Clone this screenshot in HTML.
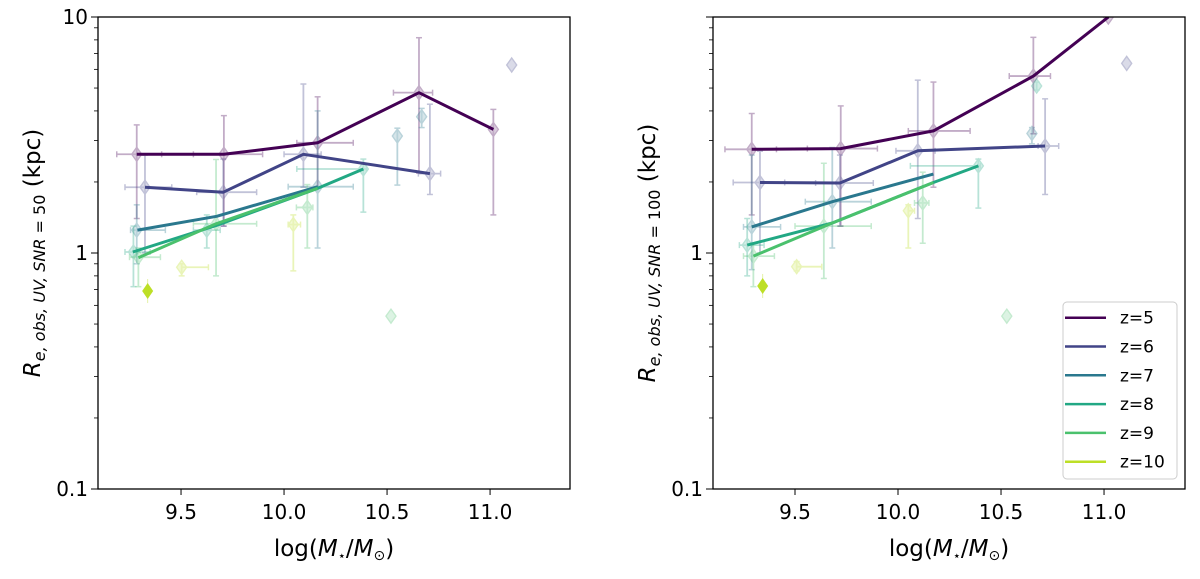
<!DOCTYPE html>
<html><head><meta charset="utf-8"><style>
body{margin:0;background:#fff;}
svg text{font-family:"DejaVu Sans","Liberation Sans",sans-serif;}
</style></head><body>
<svg id="fig" width="1200" height="574" viewBox="0 0 1200 574" xmlns="http://www.w3.org/2000/svg"></svg>
<script>
const redshifts = [5,6,7,8,9,10];
const colors = ['#440154','#414487','#2a788e','#22a884','#4ac16d','#bddf26'];
const xTicks = [9.5,10.0,10.5,11.0];
const xTickLabels = ['9.5','10.0','10.5','11.0'];
// left panel (SNR=50) median lines: masses & sizes per redshift
const leftLineMass = [[9.285,9.708,10.163,10.655,11.016],[9.325,9.705,10.094,10.708],[9.288,9.673,10.164],[9.266,9.673,10.164,10.385],[9.293,9.670,10.163],[]];
const leftLineSize = [[2.62,2.62,2.93,4.78,3.34],[1.90,1.81,2.62,2.17],[1.25,1.43,1.91],[1.01,1.31,1.88,2.27],[0.955,1.33,1.88],[]];
// right panel (SNR=100)
const rightLineMass = [[9.290,9.722,10.172,10.657,11.021],[9.330,9.718,10.096,10.714],[9.290,9.681,10.172],[9.268,9.681,10.172,10.390],[9.298,9.681,10.172],[]];
const rightLineSize = [[2.75,2.77,3.29,5.62,10.0],[1.99,1.98,2.71,2.84],[1.29,1.65,2.16],[1.08,1.34,1.99,2.34],[0.97,1.34,1.99],[]];
// scatter points: redshift index, mass, size, mass-lo, mass-hi, size-lo, size-hi
const leftPtZ    = [0,0,0,0,0, 1,1,1,1,1, 2,2,2,2, 3,3,3, 4,4,4,4, 5,5];
const leftPtMass = [9.285,9.708,10.163,10.655,11.016, 9.325,9.705,10.094,10.708,11.105, 9.285,10.163,10.550,10.668, 9.269,9.625,10.385, 9.293,9.670,10.113,10.519, 9.503,10.045];
const leftPtSize = [2.62,2.62,2.93,4.78,3.34, 1.90,1.81,2.62,2.17,6.26, 1.25,1.91,3.13,3.78, 1.01,1.25,2.27, 0.96,1.33,1.56,0.54, 0.87,1.32];
const leftPtMLo  = [9.188,9.560,10.062,10.531,11.016, 9.228,9.576,10.000,10.652,11.105, 9.255,10.020,10.550,10.668, 9.228,9.560,10.062, 9.250,9.560,10.060,10.519, 9.503,10.020];
const leftPtMHi  = [9.406,9.896,10.336,10.721,11.016, 9.455,9.867,10.180,10.760,11.105, 9.424,10.336,10.550,10.668, 9.350,9.690,10.400, 9.400,9.867,10.140,10.519, 9.633,10.080];
const leftPtSLo  = [1.40,1.30,1.90,2.18,1.45, 1.00,1.30,1.90,1.77,6.26, 0.90,1.05,1.94,3.40, 0.72,1.05,1.49, 0.72,0.80,1.05,0.54, 0.80,0.84];
const leftPtSHi  = [3.49,3.82,4.59,8.17,4.06, 2.60,2.50,5.20,4.27,6.26, 1.60,4.00,3.38,4.10, 1.30,1.45,2.50, 1.05,2.49,1.95,0.54, 0.90,1.45];
const rightPtZ    = [0,0,0,0,0, 1,1,1,1,1, 2,2,2, 3,3,3, 4,4,4,4, 5,5];
const rightPtMass = [9.290,9.722,10.172,10.657,11.021, 9.330,9.718,10.096,10.714,11.11, 9.290,9.681,10.650, 9.268,10.390,10.673, 9.298,9.640,10.120,10.528, 9.508,10.050];
const rightPtSize = [2.75,2.77,3.29,5.62,10.0, 1.99,1.98,2.71,2.84,6.36, 1.29,1.65,3.21, 1.08,2.34,5.10, 0.97,1.30,1.63,0.54, 0.875,1.51];
const rightPtMLo  = [9.160,9.560,10.050,10.540,11.021, 9.200,9.600,9.990,10.680,11.11, 9.250,9.550,10.650, 9.230,10.060,10.673, 9.250,9.500,10.080,10.528, 9.508,10.050];
const rightPtMHi  = [9.410,9.900,10.350,10.740,11.021, 9.450,9.880,10.180,10.780,11.11, 9.430,9.870,10.650, 9.350,10.400,10.673, 9.400,9.870,10.150,10.528, 9.630,10.080];
const rightPtSLo  = [1.45,1.30,1.90,3.20,10.0, 1.00,1.30,1.40,1.77,6.36, 0.85,1.05,2.90, 0.80,1.55,4.90, 0.72,0.78,1.10,0.54, 0.84,1.05];
const rightPtSHi  = [3.90,4.20,5.30,8.20,10.0, 2.70,2.60,5.40,4.50,6.36, 2.60,2.80,3.40, 1.40,2.50,5.30, 1.10,2.40,2.20,0.54, 0.92,1.60];
const starMass = [9.338, 9.343];
const starSize = [0.69, 0.725];

const NS='http://www.w3.org/2000/svg';
const svg=document.getElementById('fig');
function mk(tag,attrs,parent){const e=document.createElementNS(NS,tag);for(const k in attrs)e.setAttribute(k,attrs[k]);(parent||svg).appendChild(e);return e;}

function panel(p){
  const g=mk('g',{});
  
  
  const L=p.x0,R=p.x1,T=17,B=489;
  const xs=m=>L+(m-p.xmin)/(p.xmax-p.xmin)*(R-L);
  const ys=v=>B-(Math.log10(v)+1)/2*(B-T);
  const clip='clip'+p.id;
  const cp=mk('clipPath',{id:clip},g);mk('rect',{x:L,y:T,width:R-L,height:B-T},cp);
  const data=mk('g',{'clip-path':'url(#'+clip+')'},g);
  for(let i=0;i<p.pz.length;i++){
    const c=colors[p.pz[i]];
    const pg=mk('g',{opacity:0.32},data);
    
    
    const x=xs(p.pm[i]),y=ys(p.ps[i]);
    const x1=xs(p.ml[i]),x2=xs(p.mh[i]),y1=ys(p.sl[i]),y2=ys(p.sh[i]);
    if(x2-x1>1){mk('line',{x1:x1,x2:x2,y1:y,y2:y,stroke:c,'stroke-width':1.8},pg);
      mk('line',{x1:x1,x2:x1,y1:y-3,y2:y+3,stroke:c,'stroke-width':1.5},pg);
      mk('line',{x1:x2,x2:x2,y1:y-3,y2:y+3,stroke:c,'stroke-width':1.5},pg);}
    if(y1-y2>1){mk('line',{x1:x,x2:x,y1:y1,y2:y2,stroke:c,'stroke-width':1.8},pg);
      mk('line',{x1:x-3,x2:x+3,y1:y1,y2:y1,stroke:c,'stroke-width':1.5},pg);
      mk('line',{x1:x-3,x2:x+3,y1:y2,y2:y2,stroke:c,'stroke-width':1.5},pg);}
    mk('path',{d:`M${x} ${y-7}L${x+5} ${y}L${x} ${y+7}L${x-5} ${y}Z`,fill:c,stroke:c,'stroke-width':1.4,'fill-opacity':0.6},pg);
  }
  for(let k=0;k<redshifts.length;k++){
    if(p.lm[k].length<2)continue;
    const d=p.lm[k].map((m,j)=>(j?'L':'M')+xs(m).toFixed(1)+' '+ys(p.ls[k][j]).toFixed(1)).join('');
    const ln=mk('path',{d:d,fill:'none',stroke:colors[k],'stroke-width':3,'stroke-linejoin':'round'},data);
    
    
  }
  {const x=xs(p.star[0]),y=ys(p.star[1]);
   const st=mk('path',{d:`M${x} ${y-8}L${x+5.5} ${y}L${x} ${y+8}L${x-5.5} ${y}Z`,fill:colors[5]},data);
   
   
   mk('line',{x1:x,x2:x,y1:y-12,y2:y+12,stroke:colors[5],'stroke-width':1,opacity:0.4},data);}
  mk('rect',{x:L,y:T,width:R-L,height:B-T,fill:'none',stroke:'#000','stroke-width':1.3},g);
  xTicks.forEach((t,i)=>{const x=xs(t);mk('line',{x1:x,x2:x,y1:B,y2:B+6,stroke:'#000','stroke-width':1},g);
    const tx=mk('text',{x:x,y:B+30,'text-anchor':'middle','font-size':20,fill:'#000'},g);tx.textContent=xTickLabels[i];
    
    });
  for(let d=-1;d<=1;d++){const y=ys(Math.pow(10,d));mk('line',{x1:L-7,x2:L,y1:y,y2:y,stroke:'#000','stroke-width':1},g);
    if(d<1)for(let n=2;n<=9;n++){const yy=ys(n*Math.pow(10,d));mk('line',{x1:L-4,x2:L,y1:yy,y2:yy,stroke:'#000','stroke-width':0.8},g);}
    if(p.ylabels[d+1]){const tx=mk('text',{x:L-10,y:y+7,'text-anchor':'end','font-size':20,fill:'#000'},g);tx.textContent=p.ylabels[d+1];
      
      }}
  const xt=mk('text',{x:(L+R)/2,y:556,'text-anchor':'middle','font-size':23,fill:'#000'},g);
  xt.innerHTML='log(<tspan font-style="italic">M</tspan><tspan font-size="13" dy="4">⋆</tspan><tspan dy="-4">/</tspan><tspan font-style="italic">M</tspan><tspan font-size="14" dy="4">⊙</tspan><tspan dy="-4">)</tspan>';
  
  
  const yt=mk('text',{x:0,y:0,'text-anchor':'middle','font-size':23,fill:'#000',transform:`translate(${p.ylx},253) rotate(-90)`},g);
  yt.innerHTML='<tspan font-style="italic">R</tspan><tspan font-size="16" dy="5" font-style="italic">e, obs, UV, SNR</tspan><tspan font-size="16"> = '+p.snr+'</tspan><tspan dy="-5">  (kpc)</tspan>';
  
  
  return g;
}
panel({name:'left-panel-snr50',id:'L',x0:98,x1:570,xmin:9.097,xmax:11.388,lm:leftLineMass,ls:leftLineSize,pz:leftPtZ,pm:leftPtMass,ps:leftPtSize,ml:leftPtMLo,mh:leftPtMHi,sl:leftPtSLo,sh:leftPtSHi,star:[starMass[0],starSize[0]],ylabels:['0.1','1','10'],ylx:40,snr:50});
panel({name:'right-panel-snr100',id:'R',x0:713,x1:1185,xmin:9.102,xmax:11.393,lm:rightLineMass,ls:rightLineSize,pz:rightPtZ,pm:rightPtMass,ps:rightPtSize,ml:rightPtMLo,mh:rightPtMHi,sl:rightPtSLo,sh:rightPtSHi,star:[starMass[1],starSize[1]],ylabels:['0.1','1',''],ylx:655,snr:100});
const lg=mk('g',{});


mk('rect',{x:1063,y:302,width:114,height:177,rx:4,fill:'#fff','fill-opacity':0.85,stroke:'#ccc','stroke-width':1},lg);
redshifts.forEach((z,i)=>{const y=317.7+i*28.8;
  const e=mk('g',{},lg);
  
  
  mk('line',{x1:1065,x2:1106,y1:y,y2:y,stroke:colors[i],'stroke-width':2.5},e);
  const t=mk('text',{x:1120,y:y+6,'font-size':17,fill:'#000'},e);t.textContent='z='+z;});
</script>
</body></html>
